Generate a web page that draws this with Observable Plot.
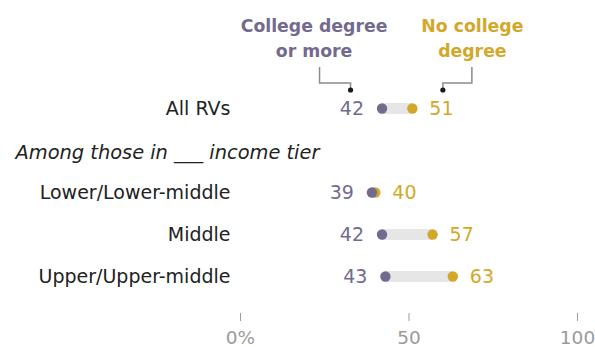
<!DOCTYPE html>
<html>
<head>
<meta charset="utf-8">
<script src="https://cdn.jsdelivr.net/npm/d3@7"></script>
<script src="https://cdn.jsdelivr.net/npm/@observablehq/plot@0.6"></script>
<style>
  html, body { margin: 0; padding: 0; background: #fff; }
  svg { display: block; }
</style>
</head>
<body>
<div id="chart"></div>
<script>
// ---- data ----
const rows = ["All RVs", "Lower/Lower-middle", "Middle", "Upper/Upper-middle"];
const college = [42, 39, 42, 43];
const noCollege = [51, 40, 57, 63];
const subtitle = "Among those in ___ income tier";
const seriesNames = ["College degree\nor more", "No college\ndegree"];
const xTicks = [0, 50, 100];

const SUB = "__sub__";
const yDomain = [rows[0], SUB, ...rows.slice(1)];

const purple = "#736a90";
const gold = "#d3a82a";
const font = "DejaVu Sans, Verdana, sans-serif";

const data = rows.map((r, i) => ({row: r, c: college[i], n: noCollege[i]}));
const first = data[0];

// connector callouts tied to the first row's points via scales
function connectors(index, scales) {
  const x = scales.x, y = scales.y;
  const py = y(first.row);
  const cx = x(first.c), nx = x(first.n);
  const g = d3.create("svg:g");
  const segs = [
    [[cx - 62, py - 41], [cx - 62, py - 25], [cx - 31, py - 25], [cx - 31, py - 19]],
    [[nx + 60, py - 41], [nx + 60, py - 25], [nx + 31, py - 25], [nx + 31, py - 19]]
  ];
  for (const s of segs) {
    g.append("path")
      .attr("d", d3.line()(s))
      .attr("fill", "none")
      .attr("stroke", "#8c8c8c")
      .attr("stroke-width", 1.5);
    const end = s[s.length - 1];
    g.append("circle").attr("cx", end[0]).attr("cy", end[1] + 1).attr("r", 2.6).attr("fill", "#1a1a1a");
  }
  return g.node();
}

const chart = Plot.plot({
  width: 595,
  height: 347,
  marginLeft: 240,
  marginRight: 18,
  marginTop: 0,
  marginBottom: 34,
  style: {fontFamily: font, background: "#fff"},
  x: {domain: [0, 100]},
  y: {type: "point", domain: yDomain, range: [107, 276], padding: 0},
  marks: [
    Plot.axisX({
      ticks: xTicks,
      tickFormat: d => d === 0 ? "0%" : String(d),
      tickSize: 8,
      tickPadding: 9,
      stroke: "#9a9a9a",
      fill: "#9a9a9a",
      fontSize: 18.5,
      label: null
    }),
    Plot.axisY({
      ticks: rows,
      tickSize: 0,
      tickPadding: 10,
      fontSize: 19,
      fill: "#222",
      label: null
    }),
    Plot.text([subtitle], {
      x: () => 0, y: () => SUB, text: d => d,
      textAnchor: "start", dx: -225, dy: 2,
      fontSize: 19.4, fontStyle: "italic", fill: "#222"
    }),
    Plot.ruleY(data, {y: "row", x1: "c", x2: "n", stroke: "#e6e6e6", strokeWidth: 11}),
    Plot.dot(data, {x: "n", y: "row", r: 5.2, fill: gold}),
    Plot.dot(data, {x: "c", y: "row", r: 5.2, fill: purple}),
    Plot.text(data, {x: "c", y: "row", text: d => String(d.c), textAnchor: "end", dx: -18, fontSize: 19, fill: purple}),
    Plot.text(data, {x: "n", y: "row", text: d => String(d.n), textAnchor: "start", dx: 17, fontSize: 19, fill: gold}),
    Plot.text([first], {x: "c", y: "row", text: () => seriesNames[0], dx: -68, dy: -94,
      lineAnchor: "top", lineHeight: 1.45, fontSize: 17.3, fontWeight: "bold", fill: purple}),
    Plot.text([first], {x: "n", y: "row", text: () => seriesNames[1], dx: 60, dy: -94,
      lineAnchor: "top", lineHeight: 1.45, fontSize: 17.3, fontWeight: "bold", fill: gold}),
    connectors
  ]
});
document.getElementById("chart").appendChild(chart);
</script>
</body>
</html>
